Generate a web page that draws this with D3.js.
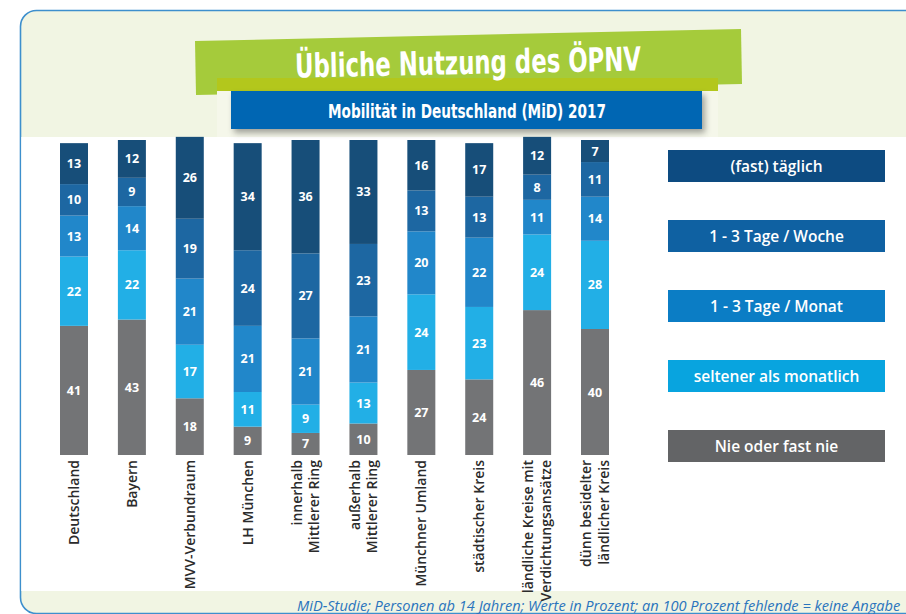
<!DOCTYPE html>
<html>
<head>
<meta charset="utf-8">
<script src="https://cdn.jsdelivr.net/npm/d3@7"></script>
<style>
  html, body { margin: 0; padding: 0; background: #fff; }
  svg { display: block; }
</style>
</head>
<body>
<div id="chart"></div>
<script>
// ---- data -------------------------------------------------------------
const categories = [
  'Deutschland', 'Bayern', 'MVV-Verbundraum', 'LH München',
  'innerhalb Mittlerer Ring', 'außerhalb Mittlerer Ring', 'Münchner Umland',
  'städtischer Kreis', 'ländliche Kreise mit Verdichtungsansätze',
  'dünn besidelter ländlicher Kreis'
];
const labelLines = [
  ['Deutschland'], ['Bayern'], ['MVV-Verbundraum'], ['LH München'],
  ['innerhalb', 'Mittlerer Ring'], ['außerhalb', 'Mittlerer Ring'],
  ['Münchner Umland'], ['städtischer Kreis'],
  ['ländliche Kreise mit', 'Verdichtungsansätze'],
  ['dünn besidelter', 'ländlicher Kreis']
];
const nie      = [41, 43, 18,  9,  7, 10, 27, 24, 46, 40];
const selten   = [22, 22, 17, 11,  9, 13, 24, 23, 24, 28];
const monat    = [13, 14, 21, 21, 21, 21, 20, 22, 11, 14];
const woche    = [10,  9, 19, 24, 27, 23, 13, 13,  8, 11];
const taeglich = [13, 12, 26, 34, 36, 33, 16, 17, 12,  7];

const seriesKeys   = ['nie', 'selten', 'monat', 'woche', 'taeglich'];
const seriesNames  = ['Nie oder fast nie', 'seltener als monatlich', '1 - 3 Tage / Monat',
                      '1 - 3 Tage / Woche', '(fast) täglich'];
const barColors    = ['#737476', '#22afe6', '#2187ca', '#1d67a2', '#174e79'];
const legendColors = ['#636466', '#08a4df', '#0b7dc5', '#0f61a2', '#0d4b81'];

const rows = categories.map((c, i) => ({
  cat: c, nie: nie[i], selten: selten[i], monat: monat[i], woche: woche[i], taeglich: taeglich[i]
}));

// ---- canvas -----------------------------------------------------------
const W = 906, H = 614;
const svg = d3.select('#chart').append('svg').attr('width', W).attr('height', H);
const font = "'Open Sans', 'Noto Sans', sans-serif";
const condensed = "'DejaVu Sans', sans-serif";

const defs = svg.append('defs');
const sh = defs.append('filter').attr('id', 'shadow').attr('x', '-10%').attr('y', '-30%')
  .attr('width', '125%').attr('height', '180%');
sh.append('feDropShadow').attr('dx', 3).attr('dy', 4).attr('stdDeviation', 3)
  .attr('flood-color', '#000').attr('flood-opacity', 0.35);

// frame + backgrounds
svg.append('rect').attr('x', 20.5).attr('y', 10.5).attr('width', 1000).attr('height', 603)
  .attr('rx', 16).attr('fill', '#f1f5e3').attr('stroke', '#3d8fcd').attr('stroke-width', 1.6);
svg.append('rect').attr('x', 21.3).attr('y', 137).attr('width', W).attr('height', 454)
  .attr('fill', '#fff');

// title banner
svg.append('polygon')
  .attr('points', '195,41 741,29 742,84 196,95')
  .attr('fill', '#a5cb3b');
svg.append('rect').attr('x', 217).attr('y', 78).attr('width', 501).attr('height', 13)
  .attr('fill', '#b3c71c');
svg.append('rect').attr('x', 217).attr('y', 91).attr('width', 501).attr('height', 46)
  .attr('fill', '#f5f7ea');
svg.append('text')
  .attr('x', 468).attr('y', 74)
  .attr('text-anchor', 'middle')
  .attr('textLength', 346).attr('lengthAdjust', 'spacingAndGlyphs')
  .attr('transform', 'rotate(-1.2,468,62)')
  .style('font-family', condensed).style('font-weight', 700).style('font-size', '33px')
  .attr('fill', '#fff')
  .text('Übliche Nutzung des ÖPNV');

// subtitle bar
svg.append('rect').attr('x', 231).attr('y', 91).attr('width', 471).attr('height', 38)
  .attr('fill', '#0066b3').attr('filter', 'url(#shadow)');
svg.append('text')
  .attr('x', 467).attr('y', 118)
  .attr('text-anchor', 'middle')
  .attr('textLength', 278).attr('lengthAdjust', 'spacingAndGlyphs')
  .style('font-family', condensed).style('font-weight', 700).style('font-size', '19px')
  .attr('fill', '#fff')
  .text('Mobilität in Deutschland (MiD) 2017');

// ---- scales -----------------------------------------------------------
const x = d3.scalePoint().domain(categories).range([74, 595]);
const y = d3.scaleLinear().domain([0, 100]).range([455, 140]);
const barW = 28;

const stack = d3.stack().keys(seriesKeys)(rows);

const layers = svg.append('g').selectAll('g')
  .data(stack)
  .join('g')
    .attr('fill', (d, i) => barColors[i]);

layers.selectAll('rect')
  .data(d => d)
  .join('rect')
    .attr('x', d => x(d.data.cat) - barW / 2)
    .attr('y', d => y(d[1]))
    .attr('width', barW)
    .attr('height', d => y(d[0]) - y(d[1]));

layers.selectAll('text')
  .data(d => d)
  .join('text')
    .attr('x', d => x(d.data.cat))
    .attr('y', d => (y(d[0]) + y(d[1])) / 2)
    .attr('dy', '0.36em')
    .attr('text-anchor', 'middle')
    .style('font-family', font).style('font-weight', 700).style('font-size', '12.5px')
    .attr('fill', '#fff')
    .text(d => d[1] - d[0]);

// ---- category labels --------------------------------------------------
const lab = svg.append('g').selectAll('text')
  .data(categories)
  .join('text')
    .attr('transform', d => `translate(${x(d)},460) rotate(-90)`)
    .attr('text-anchor', 'end')
    .style('font-family', font).style('font-weight', 600).style('font-size', '14px')
    .attr('fill', '#2b2b2b');
lab.each(function (d, i) {
  const lines = labelLines[i];
  const sel = d3.select(this);
  lines.forEach((t, j) => {
    sel.append('tspan')
      .attr('x', 0)
      .attr('y', (j - (lines.length - 1) / 2) * 17.5 + 5)
      .text(t);
  });
});

// ---- legend -----------------------------------------------------------
const legend = svg.append('g').selectAll('g')
  .data(d3.range(5).reverse())
  .join('g')
    .attr('transform', (d, i) => `translate(668,${150 + i * 70})`);
legend.append('rect')
  .attr('width', 217).attr('height', 32)
  .attr('fill', d => legendColors[d]);
legend.append('text')
  .attr('x', 108.5).attr('y', 16).attr('dy', '0.36em')
  .attr('text-anchor', 'middle')
  .style('font-family', font).style('font-weight', 600).style('font-size', '15.5px')
  .attr('fill', '#fff')
  .text(d => seriesNames[d]);

// ---- footer -----------------------------------------------------------
svg.append('text')
  .attr('x', 297).attr('y', 611)
  .style('font-family', font).style('font-style', 'italic').style('font-size', '14.6px')
  .attr('fill', '#2a74bd')
  .text('MiD-Studie; Personen ab 14 Jahren; Werte in Prozent; an 100 Prozent fehlende = keine Angabe');
</script>
</body>
</html>
